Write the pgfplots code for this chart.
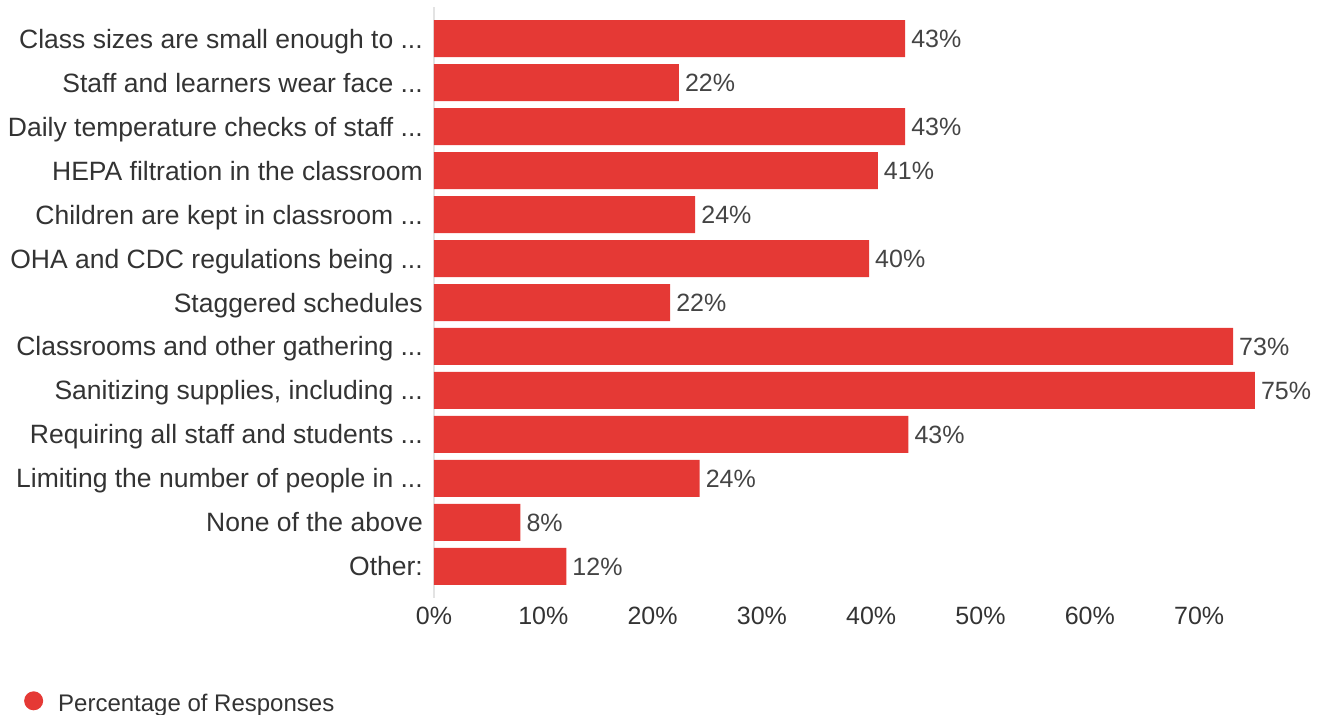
\documentclass[border=0pt]{standalone}
\usepackage{fontspec}
\setmainfont{Liberation Sans}
\usepackage{pgfplots}
\pgfplotsset{compat=1.18}
\usepackage{pgfplotstable}

\definecolor{barred}{HTML}{E53935}
\definecolor{labelgray}{HTML}{333333}
\definecolor{valgray}{HTML}{444444}
\definecolor{axisgray}{HTML}{E3E3E3}

\newcommand{\dd}{...}

% idx = row from top, pct = bar length, lbl = printed value
\pgfplotstableread{
idx pct  lbl
0   43.1 43
1   22.4 22
2   43.1 43
3   40.6 41
4   23.9 24
5   39.8 40
6   21.6 22
7   73.1 73
8   75.1 75
9   43.4 43
10  24.3 24
11  7.9  8
12  12.1 12
}\responses

\begin{document}
\begin{tikzpicture}
\useasboundingbox (0,0) rectangle (1326pt,715pt);
\begin{axis}[
    at={(434pt,117pt)}, anchor=south west,
    scale only axis,
    width=830.7pt, height=591pt,
    xbar, bar width=37pt,
    xmin=0, xmax=76,
    ymin=-0.72, ymax=12.72,
    y dir=reverse,
    axis lines*=left,
    x axis line style={draw=none},
    y axis line style={draw=axisgray, line width=2pt},
    major tick length=0pt,
    xtick={0,10,20,30,40,50,60,70},
    xticklabels={0\%,10\%,20\%,30\%,40\%,50\%,60\%,70\%},
    ytick={0,1,2,3,4,5,6,7,8,9,10,11,12},
    yticklabels={
        {Class sizes are small enough to \dd},
        {Staff and learners wear face \dd},
        {Daily temperature checks of staff \dd},
        {HEPA filtration in the classroom},
        {Children are kept in classroom \dd},
        {OHA and CDC regulations being \dd},
        {Staggered schedules},
        {Classrooms and other gathering \dd},
        {Sanitizing supplies, including \dd},
        {Requiring all staff and students \dd},
        {Limiting the number of people in \dd},
        {None of the above},
        {Other:}},
    xticklabel style={font=\fontsize{25}{30}\selectfont, text=labelgray, inner sep=0pt, yshift=-9pt},
    yticklabel style={font=\fontsize{26.5}{30}\selectfont, text=labelgray, inner sep=0pt,
        anchor=east, text height=19pt, text depth=0pt, xshift=-11pt},
    nodes near coords={\pgfplotspointmeta\%},
    nodes near coords align={horizontal},
    point meta=explicit symbolic,
    every node near coord/.append style={font=\fontsize{25}{30}\selectfont, text=valgray,
        inner sep=0pt, anchor=west, text height=18pt, text depth=0pt, xshift=6pt},
    legend image code/.code={\fill[barred] (9.5pt,2.5pt) circle (9.5pt);},
    legend style={draw=none, fill=none, inner sep=0pt,
        at={(axis description cs:-0.4936,-0.1777)}, anchor=west,
        font=\fontsize{24}{28}\selectfont, text=labelgray,
        /tikz/every odd column/.append style={column sep=13pt}},
    legend cell align=left,
]
\addplot[fill=barred, draw=none] table[x=pct, y=idx, meta=lbl] {\responses};
\addlegendentry{Percentage of Responses}
\end{axis}
\end{tikzpicture}
\end{document}
